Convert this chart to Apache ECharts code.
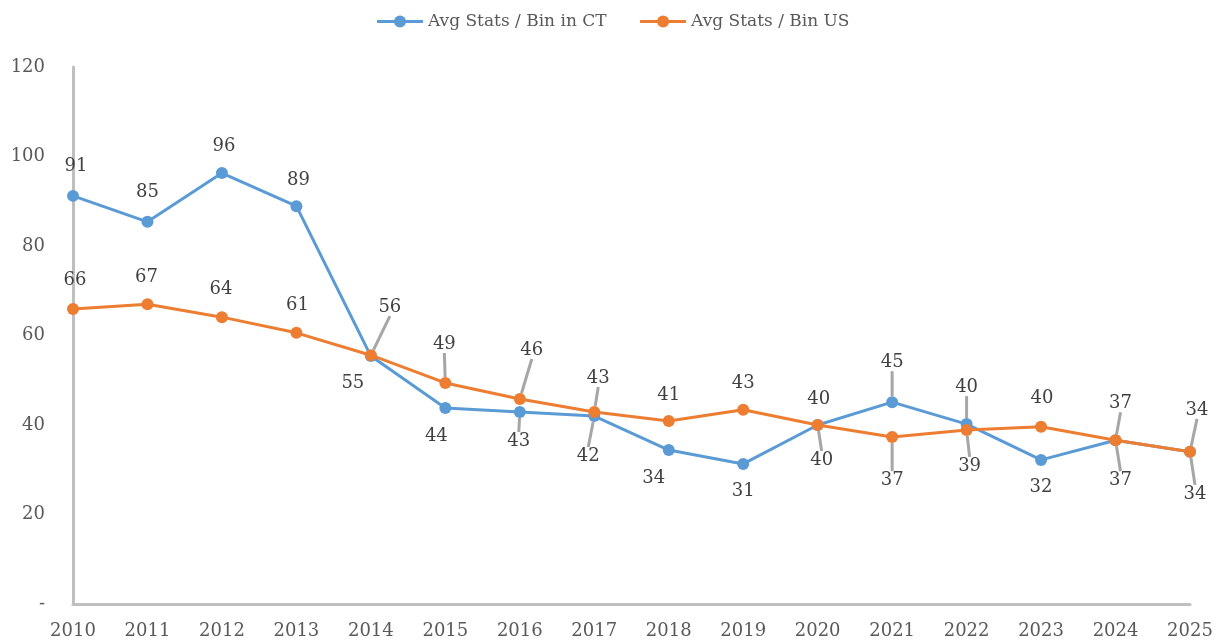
<!DOCTYPE html>
<html>
<head>
<meta charset="utf-8">
<script src="https://cdn.jsdelivr.net/npm/echarts@6/dist/echarts.min.js"></script>
<style>
  html, body { margin: 0; padding: 0; background: #fff; }
  #chart { width: 1225px; height: 644px; }
</style>
</head>
<body>
<div id="chart"></div>
<script>
// data
const years = ['2010', '2011', '2012', '2013', '2014', '2015', '2016', '2017',
               '2018', '2019', '2020', '2021', '2022', '2023', '2024', '2025'];
const ctValues = [91.2, 85.4, 96.3, 88.9, 55.4, 43.8, 42.9, 42.0, 34.4, 31.3, 40.0, 45.1, 40.2, 32.2, 36.6, 34.0];
const usValues = [65.9, 67.0, 64.1, 60.6, 55.6, 49.4, 45.8, 42.9, 40.9, 43.4, 40.0, 37.3, 38.9, 39.6, 36.6, 34.0];
const yTicks = [0, 20, 40, 60, 80, 100, 120];

// label placement (offset of label centre from point), Excel-style
const ctLabelOffset = [[3,-30],[0,-30],[2,-27],[2,-26],[-18,27],[-9,28],[-1,29],[-6,40],
                       [-15,28],[0,27],[4,35],[0,-40],[0,-37],[0,27],[5,-37],[7,-42]];
const usLabelOffset = [[2,-29],[-1,-27],[-1,-28],[1,-27],[19,-48],[-1,-39],[12,-49],[4,-34],
                       [0,-26],[0,-26],[1,-26],[0,43],[3,36],[1,-28],[5,40],[5,42]];
const ctLeader = [0,0,0,0,0,0,1,1,0,0,1,1,1,0,1,1];
const usLeader = [0,0,0,0,1,1,1,1,0,0,0,1,1,0,1,1];

const FONT = '"DejaVu Serif", "Liberation Serif", serif';

const chart = echarts.init(document.getElementById('chart'));

const makeData = (vals, leader) => vals.map((v, i) => ({
    value: v,
    labelLine: { show: !!leader[i] }
}));

const makeSeries = (name, vals, color, offsets, leader) => ({
    name: name,
    type: 'line',
    data: makeData(vals, leader),
    symbol: 'circle',
    symbolSize: 12,
    lineStyle: { color: color, width: 3 },
    itemStyle: { color: color },
    z: name.indexOf('US') >= 0 ? 3 : 2,
    label: {
        show: true,
        position: 'inside',
        formatter: p => Math.round(p.value),
        color: '#404040',
        fontFamily: FONT,
        fontSize: 18
    },
    labelLine: {
        show: false,
        lineStyle: { color: '#a6a6a6', width: 3 }
    },
    labelLayout: p => ({
        dx: offsets[p.dataIndex][0],
        dy: offsets[p.dataIndex][1]
    })
});

const option = {
    animation: false,
    backgroundColor: '#fff',
    legend: {
        top: 8,
        left: 'center',
        itemWidth: 46,
        itemHeight: 15,
        itemGap: 32,
        lineStyle: { width: 3 },
        textStyle: { color: '#595959', fontFamily: FONT, fontSize: 17 },
        data: ['Avg Stats / Bin in CT', 'Avg Stats / Bin US']
    },
    grid: { left: 73, right: 35, top: 67, bottom: 40, containLabel: false },
    xAxis: {
        type: 'category',
        data: years,
        boundaryGap: false,
        axisLine: { lineStyle: { color: '#bfbfbf', width: 3 } },
        axisTick: { show: false },
        axisLabel: { color: '#595959', fontFamily: FONT, fontSize: 18, margin: 18 },
        splitLine: { show: false }
    },
    yAxis: {
        type: 'value',
        min: yTicks[0],
        max: yTicks[yTicks.length - 1],
        interval: yTicks[1] - yTicks[0],
        axisLine: { show: true, lineStyle: { color: '#bfbfbf', width: 3 } },
        axisTick: { show: false },
        splitLine: { show: false },
        axisLabel: {
            color: '#595959', fontFamily: FONT, fontSize: 18, margin: 28,
            formatter: v => v === 0 ? '-' : v
        }
    },
    series: [
        makeSeries('Avg Stats / Bin in CT', ctValues, '#5b9bd5', ctLabelOffset, ctLeader),
        makeSeries('Avg Stats / Bin US', usValues, '#ed7d31', usLabelOffset, usLeader)
    ]
};

chart.setOption(option);
</script>
</body>
</html>
